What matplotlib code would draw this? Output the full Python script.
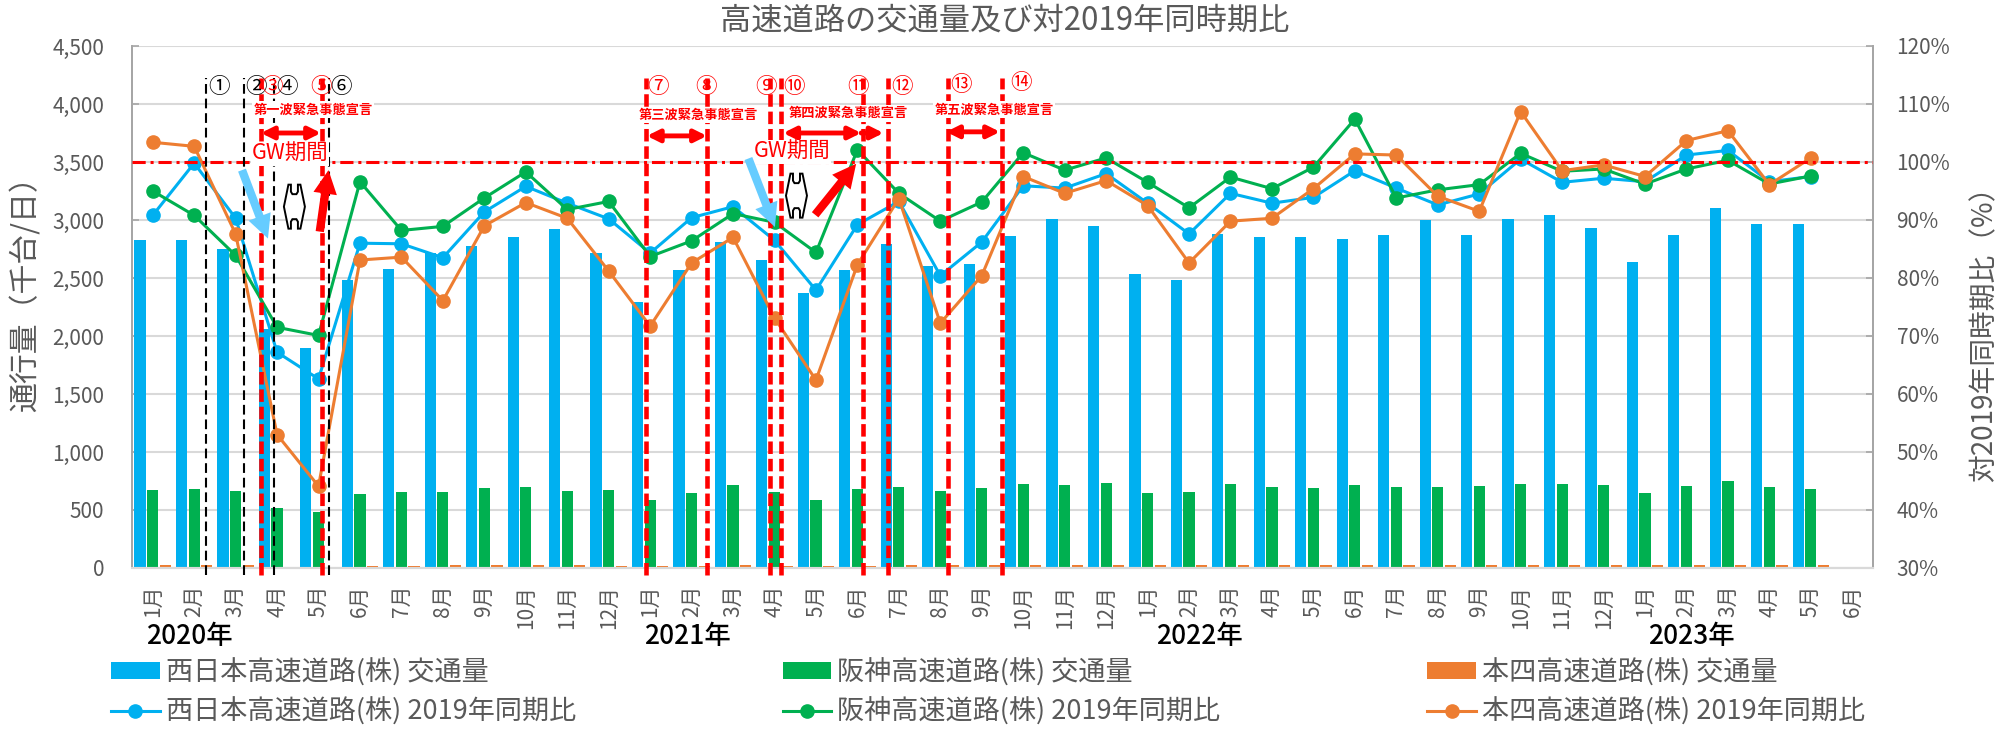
import matplotlib
matplotlib.use('Agg')
import matplotlib.pyplot as plt
import numpy as np
from matplotlib.patches import Polygon, Patch
from matplotlib.lines import Line2D
from matplotlib.ticker import FuncFormatter, MultipleLocator
import matplotlib.transforms as mtransforms

plt.rcParams['font.family'] = ['Noto Sans CJK JP', 'DejaVu Sans']
plt.rcParams['lines.scale_dashes'] = False

# ---------------- data ----------------
months = ['1月', '2月', '3月', '4月', '5月', '6月', '7月', '8月', '9月', '10月', '11月', '12月',
          '1月', '2月', '3月', '4月', '5月', '6月', '7月', '8月', '9月', '10月', '11月', '12月',
          '1月', '2月', '3月', '4月', '5月', '6月', '7月', '8月', '9月', '10月', '11月', '12月',
          '1月', '2月', '3月', '4月', '5月', '6月']
years = ['2020年', '2021年', '2022年', '2023年']
year_pos = [0.875, 12.89, 25.24, 37.11]

west_vol = [2830, 2827, 2750, 2062, 1899, 2481, 2581, 2716, 2779, 2853, 2925, 2716,
            2297, 2567, 2810, 2658, 2369, 2570, 2790, 2604, 2621, 2865, 3008, 2945,
            2535, 2483, 2882, 2853, 2856, 2833, 2868, 3002, 2870, 3011, 3042, 2931,
            2638, 2870, 3105, 2965, 2962]
hanshin_vol = [669, 680, 660, 517, 485, 637, 652, 652, 689, 697, 663, 675,
               589, 646, 712, 652, 586, 678, 700, 663, 686, 720, 717, 731,
               646, 657, 723, 694, 689, 712, 694, 700, 706, 723, 720, 717,
               643, 703, 746, 700, 680]
honshi_vol = [24, 24, 22, 12, 12, 18, 20, 22, 24, 25, 24, 20,
              18, 20, 24, 20, 16, 20, 22, 24, 22, 24, 25, 25,
              22, 22, 26, 25, 26, 27, 26, 27, 25, 28, 26, 26,
              24, 25, 28, 26, 29]

west_ratio = [90.8, 99.8, 90.3, 67.2, 62.6, 86.0, 85.9, 83.5, 91.4, 95.8, 92.9, 90.2,
              84.3, 90.4, 92.3, 86.5, 77.9, 89.2, 93.2, 80.4, 86.2, 95.9, 95.5, 98.0,
              92.9, 87.6, 94.6, 92.9, 93.9, 98.5, 95.5, 92.6, 94.5, 100.5, 96.5, 97.2,
              96.6, 101.2, 102.0, 96.6, 97.5]
hanshin_ratio = [95.0, 90.8, 83.9, 71.5, 70.1, 96.6, 88.2, 88.9, 93.8, 98.3, 91.8, 93.2,
                 83.7, 86.4, 91.1, 89.6, 84.4, 102.1, 94.6, 89.8, 93.1, 101.6, 98.6, 100.7,
                 96.5, 92.1, 97.4, 95.4, 99.1, 107.4, 93.8, 95.2, 96.1, 101.5, 98.4, 98.8,
                 96.2, 98.8, 100.3, 96.2, 97.6]
honshi_ratio = [103.4, 102.7, 87.6, 53.0, 44.1, 83.1, 83.6, 76.1, 89.0, 93.0, 90.3, 81.2,
                71.7, 82.6, 87.0, 73.1, 62.4, 82.3, 93.7, 72.2, 80.4, 97.5, 94.6, 96.8,
                92.5, 82.6, 89.8, 90.3, 95.4, 101.4, 101.2, 94.1, 91.5, 108.7, 98.5, 99.5,
                97.5, 103.7, 105.4, 96.1, 100.7]

series_names = ['西日本高速道路(株)', '阪神高速道路(株)', '本四高速道路(株)']

# event markers (x in month-index units)
black_events = [1.285, 2.20, 2.92, 4.25]
red_events = [2.62, 4.08, 11.91, 13.36, 14.89, 15.16, 17.13, 17.73, 19.18, 20.48]
event_labels = ['①', '②', '③', '④', '⑤', '⑥', '⑦', '⑧', '⑨', '⑩', '⑪', '⑫', '⑬', '⑭']
event_label_x = [1.60, 2.50, 2.88, 3.25, 4.05, 4.55, 12.19, 13.35, 14.80, 15.47, 17.01, 18.08, 19.51, 20.95]
event_label_red = [False, False, True, False, True, False, True, True, True, True, True, True, True, True]

wave_texts = ['第一波緊急事態宣言', '第三波緊急事態宣言', '第四波緊急事態宣言', '第五波緊急事態宣言']
wave_text_pos = [(3.867, 109.0), (13.155, 108.1), (16.77, 108.4), (20.30, 109.0)]
wave_spans = [(2.61, 4.06, 105.0), (11.92, 13.37, 104.5), (15.21, 17.09, 105.0), (19.14, 20.44, 105.2)]

BLUE = '#00B0F0'
GREEN = '#00B050'
ORANGE = '#ED7D31'
RED = '#FF0000'
GRAY = '#595959'

W, H = 2007, 735
fig = plt.figure(figsize=(W / 100, H / 100), dpi=100)
L, R, T, B = 132, 1873, 46, 568
ax = fig.add_axes([L / W, 1 - B / H, (R - L) / W, (B - T) / H])
ax2 = ax.twinx()

n = len(months)
x = np.arange(n)
xd = np.arange(len(west_vol))
bw = 0.27
off = 0.305
ax.bar(xd - off, west_vol, bw, color=BLUE, zorder=2)
ax.bar(xd, hanshin_vol, bw, color=GREEN, zorder=2)
ax.bar(xd + off, honshi_vol, bw, color=ORANGE, zorder=2)

ax.set_xlim(-0.5, n - 0.5)
ax.set_ylim(0, 4500)
ax.yaxis.set_major_locator(MultipleLocator(500))
ax.yaxis.set_major_formatter(FuncFormatter(lambda v, p: f'{int(v):,}'))
ax.grid(axis='y', color='#D9D9D9', lw=1.5, zorder=0)
ax.set_axisbelow(True)
ax.set_xticks(x)
ax.set_xticklabels(months, rotation=90, fontsize=15, color=GRAY)
ax.tick_params(axis='x', length=0, pad=12)
ax.tick_params(axis='y', direction='in', length=5, color='#A6A6A6', width=1.2,
               labelsize=15, labelcolor=GRAY, pad=20)

ms = 9.5
lw = 2.2
ax2.plot(xd, west_ratio, color=BLUE, lw=lw, marker='o', ms=ms, zorder=3)
ax2.plot(xd, hanshin_ratio, color=GREEN, lw=lw, marker='o', ms=ms, zorder=3)
ax2.plot(xd, honshi_ratio, color=ORANGE, lw=lw, marker='o', ms=ms, zorder=3)
ax2.set_ylim(30, 120)
ax2.yaxis.set_major_locator(MultipleLocator(10))
ax2.yaxis.set_major_formatter(FuncFormatter(lambda v, p: f'{int(round(v))}%'))
ax2.tick_params(axis='y', direction='in', length=5, color='#A6A6A6', width=1.2,
                labelsize=15, labelcolor=GRAY, pad=17)

for a in (ax, ax2):
    a.spines['top'].set_visible(False)
    a.spines['left'].set_color('#A6A6A6')
    a.spines['right'].set_color('#A6A6A6')
    a.spines['bottom'].set_color('#D9D9D9')
    a.spines['left'].set_linewidth(1.3)
    a.spines['right'].set_linewidth(1.3)
    a.spines['bottom'].set_linewidth(1.5)

# 100% reference line
ref, = ax2.plot([-0.5, n - 0.5], [100, 100], color=RED, lw=2.2, zorder=4)
ref.set_dashes([9.5, 3.5, 2.2, 3.5])

# event lines
y_bot, y_top = 28.8, 114.5
for xv in black_events:
    ln, = ax2.plot([xv, xv], [y_bot, y_top], color='black', lw=1.5, zorder=5, clip_on=False)
    ln.set_dashes([7, 3.5])
for xv in red_events:
    ln, = ax2.plot([xv, xv], [y_bot, y_top], color=RED, lw=3.3, zorder=5, clip_on=False)
    ln.set_dashes([9, 3.5])

for lab, lx, isred in zip(event_labels, event_label_x, event_label_red):
    yy = 112.9
    if lab == '⑬':
        yy = 113.3
    if lab == '⑭':
        yy = 113.6
    ax2.text(lx, yy, lab, ha='center', va='center', fontsize=15.5,
             color=RED if isred else 'black', zorder=7, clip_on=False)

for t, (tx, ty) in zip(wave_texts, wave_text_pos):
    ax2.text(tx, ty, t, ha='center', va='center', fontsize=9.5, color=RED, fontweight='bold',
             zorder=7, bbox=dict(facecolor='white', edgecolor='none', pad=1))

for (x0, x1, yy) in wave_spans:
    ax2.annotate('', xy=(x1, yy), xytext=(x0, yy),
                 arrowprops=dict(arrowstyle='<|-|>', color=RED, lw=3.5, mutation_scale=18,
                                 shrinkA=0, shrinkB=0), zorder=7)
ax2.annotate('', xy=(17.63, 105.0), xytext=(17.09, 105.0),
             arrowprops=dict(arrowstyle='-|>', color=RED, lw=3.5, mutation_scale=18,
                             shrinkA=0, shrinkB=0), zorder=7)

for gx, gy in [(3.31, 101.4), (15.42, 101.7)]:
    ax2.text(gx, gy, 'GW期間', ha='center', va='center', fontsize=15.5, color=RED, zorder=7,
             bbox=dict(facecolor='white', edgecolor='none', pad=0.5))

# light-blue (down) and red (up) arrows
for (tail, tip) in [((2.154, 98.6), (2.78, 86.8)), ((14.37, 100.6), (15.01, 88.8))]:
    ax2.annotate('', xy=tip, xytext=tail,
                 arrowprops=dict(facecolor='#66CCFF', edgecolor='none', width=6, headwidth=17,
                                 headlength=17, shrink=0), zorder=8)
for (tail, tip) in [((4.03, 88.0), (4.24, 98.6)), ((15.98, 90.9), (16.97, 99.7))]:
    ax2.annotate('', xy=tip, xytext=tail,
                 arrowprops=dict(facecolor=RED, edgecolor='none', width=6, headwidth=17,
                                 headlength=17, shrink=0), zorder=8)

# bracket-like shapes
shape = np.array([(-6, 22), (-3.5, 22), (-3.5, 15), (-2, 12.5), (2, 12.5), (3.5, 15), (3.5, 22),
                  (6, 22), (10.5, 0), (6, -22), (3.5, -22), (3.5, -15), (2, -12.5), (-2, -12.5),
                  (-3.5, -15), (-3.5, -22), (-6, -22), (-10.5, 0)])
for cx, cy in [(3.418, 92.3), (15.53, 94.2)]:
    px, py = ax2.transData.transform((cx, cy))
    poly = Polygon(shape, closed=True, facecolor='white', edgecolor='black', lw=1.4,
                   transform=mtransforms.Affine2D().translate(px, py), zorder=8)
    fig.add_artist(poly)

# year labels
tr = mtransforms.blended_transform_factory(ax.transData, fig.transFigure)
for yl, yp in zip(years, year_pos):
    ax.text(yp, 1 - 636 / H, yl, transform=tr, ha='center', va='center', fontsize=19,
            color='black', fontweight='medium', clip_on=False)

# titles & axis labels
fig.text(1005 / W, 1 - 20 / H, '高速道路の交通量及び対2019年同時期比', ha='center', va='center',
         fontsize=22.5, color=GRAY)
fig.text(26 / W, 1 - 287 / H, '通行量（千台/日）', rotation=90, ha='center', va='center',
         fontsize=21.5, color=GRAY)
fig.text(1984 / W, 1 - 327 / H, '対2019年同時期比（%）', rotation=90, ha='center', va='center',
         fontsize=20, color=GRAY)

# legend
cols = [BLUE, GREEN, ORANGE]
handles, labels = [], []
for name, c in zip(series_names, cols):
    handles.append(Patch(facecolor=c, edgecolor='none'))
    labels.append(f'{name} 交通量')
    handles.append(Line2D([], [], color=c, lw=lw, marker='o', ms=ms))
    labels.append(f'{name} 2019年同期比')
fig.legend(handles, labels, ncol=3, loc='center', mode='expand',
           bbox_to_anchor=(111 / W, 1 - 692 / H, (1865 - 111) / W, 0),
           frameon=False, fontsize=19.5, labelcolor=GRAY, handlelength=1.8,
           handleheight=0.6, handletextpad=0.22, labelspacing=0.42, borderpad=0,
           borderaxespad=0)

fig.savefig('out.png', dpi=100)
